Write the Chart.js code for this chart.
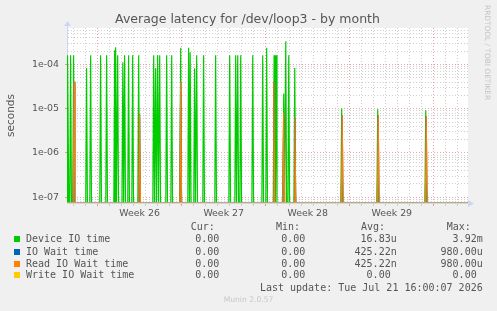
<!DOCTYPE html>
<html>
<head>
<meta charset="utf-8">
<script src="https://cdn.jsdelivr.net/npm/chart.js@4/dist/chart.umd.min.js"></script>
<style>
html, body { margin: 0; padding: 0; background: #f0f0f0; }
#wrap { position: relative; width: 497px; height: 311px; overflow: hidden; font-family: "DejaVu Sans", sans-serif; color: #555; }
#chart { position: absolute; left: 0; top: 0; }
.t { position: absolute; white-space: pre; line-height: 12px; }
.mono { font-family: "DejaVu Sans Mono", monospace; font-size: 10px; color: #555; }
.box { position: absolute; width: 6px; height: 6px; }
#title { position: absolute; left: 0; width: 495px; top: 11px; text-align: center; font-size: 12.5px; line-height: 15px; color: #555; }
#rrd { position: absolute; left: 483px; top: 5px; writing-mode: vertical-rl; font-size: 7.4px; color: #c4c4c4; white-space: nowrap; }
#munin { position: absolute; left: 0; width: 497px; text-align: center; top: 295px; font-size: 7.6px; color: #c8c8c8; }
</style>
</head>
<body>
<div id="wrap">
  <canvas id="chart" width="497" height="311"></canvas>
  <div id="title">Average latency for /dev/loop3 - by month</div>
  <div id="rrd">RRDTOOL / TOBI OETIKER</div>
  <div id="legend"></div>
  <div id="munin">Munin 2.0.57</div>
</div>
<script>
// x is in days, 0 = start of week 26
const weekLabels = ["Week 26", "Week 27", "Week 28", "Week 29"];
const weekCenters = [3.5, 10.5, 17.5, 24.5];

const deviceDays = [-2.47, -2.25, -2.0, -0.92, -0.58, 0.25, 0.75, 1.42, 1.5, 1.67,
                    2.1, 2.25, 2.58, 2.92, 3.42, 4.67, 4.83, 5.0, 5.17, 5.75,
                    6.17, 6.92, 7.58, 7.71, 8.08, 8.25, 8.83, 9.83, 11.0, 11.5,
                    11.67, 11.92, 12.92, 13.75, 14.08, 14.7, 14.87, 15.5, 15.67, 15.92,
                    16.42, 20.33, 23.33, 27.33];
const deviceIO =   [1.62e-4, 1.62e-4, 1.62e-4, 8.3e-5, 1.62e-4, 1.62e-4, 1.62e-4, 2.1e-4, 2.45e-4, 1.62e-4,
                    1.13e-4, 1.62e-4, 1.62e-4, 1.62e-4, 1.62e-4, 1.62e-4, 8.2e-5, 1.62e-4, 1.62e-4, 1.62e-4,
                    1.62e-4, 2.4e-4, 2.4e-4, 1.9e-4, 8.1e-5, 1.62e-4, 1.62e-4, 1.62e-4, 1.62e-4, 1.62e-4,
                    1.62e-4, 1.62e-4, 1.62e-4, 1.62e-4, 2.4e-4, 1.62e-4, 1.62e-4, 2.2e-5, 3.35e-4, 1.62e-4,
                    8.4e-5, 1.02e-5, 9.7e-6, 9.2e-6];

const waitDays = [-1.96, 3.5, 6.92, 14.68, 15.5, 16.43, 20.37, 23.37, 27.37];
const ioWait =   [4.06e-5, 7.4e-6, 4.06e-5, 4.06e-5, 8.0e-6, 6.2e-6, 7.2e-6, 7.2e-6, 6.85e-6];
const readIO =   [4.06e-5, 7.4e-6, 4.06e-5, 4.06e-5, 8.0e-6, 6.2e-6, 7.2e-6, 7.2e-6, 6.85e-6];

const writeDays = [-2.55, 30.85];
const writeIO = [0, 0];

const seriesNames = ["Device IO time", "IO Wait time", "Read IO Wait time", "Write IO Wait time"];
const seriesColors = ["#00cc00", "#0066b3", "#ff8000", "#ffcc00"];
const curText = ["0.00 ", "0.00 ", "0.00 ", "0.00 "];
const minText = ["0.00 ", "0.00 ", "0.00 ", "0.00 "];
const avgText = ["16.83u", "425.22n", "425.22n", "0.00 "];
const maxText = ["3.92m", "980.00u", "980.00u", "0.00 "];
const lastUpdate = "Last update: Tue Jul 21 16:00:07 2026";

const Y_MIN = 7.4e-8, Y_MAX = 6.7e-4;
const X_MIN = -2.55, X_MAX = 30.85;

// zero can't sit on a log axis, so it goes to the bottom edge like rrdtool does
function spikes(days, values) {
    const pts = [{ x: X_MIN, y: Y_MIN }];
    days.forEach(function (d, i) {
        pts.push({ x: d - 0.07, y: Y_MIN });
        pts.push({ x: d, y: values[i] });
        pts.push({ x: d + 0.07, y: Y_MIN });
    });
    pts.push({ x: X_MAX, y: Y_MIN });
    return pts;
}

function flat(days, values) {
    return days.map(function (d, i) { return { x: d, y: values[i] > 0 ? values[i] : Y_MIN }; });
}

// legend block under the plot
const legend = document.getElementById("legend");
function addText(cls, txt, left, right, center) {
    const el = document.createElement("div");
    el.className = "t " + cls;
    el.textContent = txt;
    el.style.top = (center - 6) + "px";
    if (left !== null) el.style.left = left + "px";
    if (right !== null) el.style.right = (497 - right) + "px";
    legend.appendChild(el);
}
addText("mono", "Cur:", 190.7, null, 227.3);
addText("mono", "Min:", 276, null, 227.3);
addText("mono", "Avg:", 361, null, 227.3);
addText("mono", "Max:", 446.7, null, 227.3);
const rowCenters = [239.3, 251.5, 263.5, 275.4];
seriesNames.forEach(function (name, i) {
    const c = rowCenters[i];
    const b = document.createElement("div");
    b.className = "box";
    b.style.left = "14px";
    b.style.top = (c - 3) + "px";
    b.style.background = seriesColors[i];
    legend.appendChild(b);
    addText("mono", name, 26, null, c);
    addText("mono", curText[i], null, 225.3, c);
    addText("mono", minText[i], null, 311.3, c);
    addText("mono", avgText[i], null, 396.7, c);
    addText("mono", maxText[i], null, 482.7, c);
});
addText("mono", lastUpdate, null, 482.7, 287.7);

const plotFrame = {
    id: "plotFrame",
    beforeDraw(chart) {
        const a = chart.chartArea, ctx = chart.ctx;
        ctx.save();
        ctx.fillStyle = "#ffffff";
        ctx.fillRect(a.left, a.top, a.right - a.left, a.bottom - a.top);
        ctx.restore();
    },
    afterDraw(chart) {
        const a = chart.chartArea, ctx = chart.ctx;
        ctx.save();
        ctx.strokeStyle = "#ccd5f5";
        ctx.fillStyle = "#ccd5f5";
        ctx.lineWidth = 1;
        ctx.beginPath();
        ctx.moveTo(a.left + 0.5, a.top);
        ctx.lineTo(a.left + 0.5, a.top - 4);
        ctx.stroke();
        ctx.beginPath();
        ctx.moveTo(a.left - 3, a.top - 2);
        ctx.lineTo(a.left + 4, a.top - 2);
        ctx.lineTo(a.left + 0.5, a.top - 7);
        ctx.closePath();
        ctx.fill();
        ctx.beginPath();
        ctx.moveTo(a.right, a.bottom - 3);
        ctx.lineTo(a.right, a.bottom + 4);
        ctx.lineTo(a.right + 6, a.bottom + 0.5);
        ctx.closePath();
        ctx.fill();
        ctx.restore();
    }
};

const isInt = v => Math.abs(v - Math.round(v)) < 1e-6;

new Chart(document.getElementById("chart"), {
    type: "line",
    data: {
        datasets: [
            { label: seriesNames[0], data: spikes(deviceDays, deviceIO), borderColor: seriesColors[0], order: 4 },
            { label: seriesNames[1], data: spikes(waitDays, ioWait), borderColor: seriesColors[1], order: 3 },
            { label: seriesNames[2], data: spikes(waitDays, readIO), borderColor: seriesColors[2], order: 2 },
            { label: seriesNames[3], data: flat(writeDays, writeIO), borderColor: "#e2c77e", order: 1 }
        ]
    },
    options: {
        responsive: false,
        animation: false,
        devicePixelRatio: 1,
        layout: { padding: { top: 28, right: 29, bottom: 0, left: 0 } },
        elements: {
            line: { borderWidth: 1.2, tension: 0, fill: false },
            point: { radius: 0 }
        },
        plugins: { legend: { display: false }, tooltip: { enabled: false } },
        scales: {
            x: {
                type: "linear",
                min: X_MIN,
                max: X_MAX,
                afterBuildTicks: function (s) {
                    const t = [];
                    for (let v = -2.5; v <= 30.5; v += 0.5) t.push({ value: v });
                    s.ticks = t;
                },
                afterFit: function (s) { s.height = 108; },
                ticks: {
                    autoSkip: false,
                    maxRotation: 0,
                    padding: 2,
                    color: "#555",
                    font: { family: "DejaVu Sans", size: 9.4 },
                    callback: function (v) {
                        const i = weekCenters.findIndex(c => Math.abs(c - v) < 1e-6);
                        return i >= 0 ? weekLabels[i] : "";
                    }
                },
                grid: {
                    lineWidth: 1,
                    tickLength: 3,
                    color: function (ctx) {
                        const v = ctx.tick ? ctx.tick.value : 0;
                        if (!isInt(v)) return "rgba(0,0,0,0)";
                        return Math.round(v) % 7 === 0 ? "rgba(235,140,140,0.8)" : "#d0d0d0";
                    },
                    tickColor: function (ctx) {
                        const v = ctx.tick ? ctx.tick.value : 0;
                        if (!isInt(v)) return "rgba(0,0,0,0)";
                        return Math.round(v) % 7 === 0 ? "rgba(235,140,140,0.9)" : "#cccccc";
                    }
                },
                border: { display: true, color: "#ccd5f5", dash: [1, 2] }
            },
            y: {
                type: "logarithmic",
                min: Y_MIN,
                max: Y_MAX,
                afterBuildTicks: function (s) {
                    const t = [];
                    for (let e = -8; e <= -4; e++) {
                        for (let m = 1; m <= 9; m++) {
                            const v = m * Math.pow(10, e);
                            if (v >= Y_MIN && v <= Y_MAX) t.push({ value: v, major: m === 1 });
                        }
                    }
                    s.ticks = t;
                },
                afterFit: function (s) { s.width = 67; },
                ticks: {
                    autoSkip: false,
                    padding: 6,
                    color: "#555",
                    font: { family: "DejaVu Sans", size: 9.4 },
                    callback: function (v, i, ticks) {
                        if (!ticks[i].major) return "";
                        return "1e-0" + Math.round(-Math.log10(v));
                    }
                },
                grid: {
                    lineWidth: 1,
                    tickLength: 2,
                    color: ctx => (ctx.tick && ctx.tick.major) ? "rgba(235,140,140,0.8)" : "#d0d0d0",
                    tickColor: ctx => (ctx.tick && ctx.tick.major) ? "rgba(235,140,140,0.9)" : "rgba(0,0,0,0)"
                },
                border: { display: true, color: "#ccd5f5", dash: [1, 2] },
                title: {
                    display: true,
                    text: "seconds",
                    color: "#555",
                    font: { family: "DejaVu Sans", size: 10.5 },
                    padding: { top: 5, bottom: 0 }
                }
            }
        }
    },
    plugins: [plotFrame]
});
</script>
</body>
</html>
